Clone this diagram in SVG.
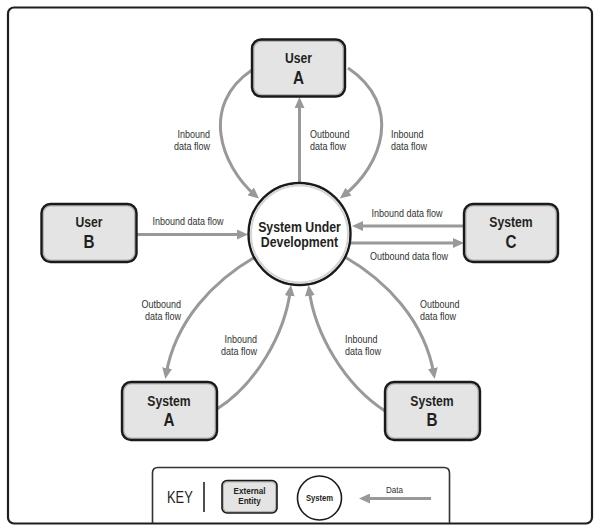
<svg xmlns="http://www.w3.org/2000/svg" width="600" height="529" viewBox="0 0 600 529">
<defs>
<style>
.frame{fill:#fff;stroke:#1e1e1e;stroke-width:2.2}
.bo{fill:#b4b4b4;stroke:#1a1a1a;stroke-width:2.4}
.bi{fill:#e4e4e4}
.co{fill:#fff;stroke:#1a1a1a;stroke-width:2.4}
.ci{fill:none;stroke:#d4d4d4;stroke-width:2}
.t1{font-family:"Liberation Sans",Arial,sans-serif;font-weight:bold;font-size:14px;fill:#231f20;text-anchor:middle}
.t2{font-family:"Liberation Sans",Arial,sans-serif;font-weight:bold;font-size:17.5px;fill:#231f20;text-anchor:middle}
.lb{font-family:"Liberation Sans",Arial,sans-serif;font-size:10px;fill:#333}
.flow{fill:none;stroke:#999;stroke-width:3;marker-end:url(#ah)}
.keyt{font-family:"Liberation Sans",Arial,sans-serif;font-size:16.5px;fill:#231f20}
.kb{font-family:"Liberation Sans",Arial,sans-serif;font-weight:bold;font-size:9px;fill:#231f20;text-anchor:middle}
</style>
<marker id="ah" markerUnits="userSpaceOnUse" markerWidth="11" markerHeight="10" refX="7" refY="5" orient="auto">
<path d="M0,0 L11,5 L0,10 z" fill="#999"/>
</marker>
</defs>
<rect class="frame" x="8" y="7.5" width="584" height="516" rx="6"/>

<g id="connectors">
<path class="flow" d="M299.5,183 V101"/>
<path class="flow" d="M252,70 C200,105 220,165 256,196"/>
<path class="flow" d="M348,68 C403,105 383,165 343,196"/>
<path class="flow" d="M137,234.5 H244"/>
<path class="flow" d="M464,226 H356"/>
<path class="flow" d="M349.5,243 H460"/>
<path class="flow" d="M255,257 C215,280 175,320 166,375"/>
<path class="flow" d="M217,409 C255,385 285,335 290.5,289"/>
<path class="flow" d="M385,411 C345,385 315,335 309,289"/>
<path class="flow" d="M345,257 C385,280 425,320 434,375"/>
<g class="lb">
<text transform="translate(210,138) scale(0.9,1)" text-anchor="end">Inbound</text>
<text transform="translate(210,149.5) scale(0.9,1)" text-anchor="end">data flow</text>
<text transform="translate(310,138) scale(0.9,1)">Outbound</text>
<text transform="translate(310,149.5) scale(0.9,1)">data flow</text>
<text transform="translate(391,138) scale(0.9,1)">Inbound</text>
<text transform="translate(391,149.5) scale(0.9,1)">data flow</text>
<text transform="translate(188,225) scale(0.9,1)" text-anchor="middle">Inbound data flow</text>
<text transform="translate(407,217) scale(0.9,1)" text-anchor="middle">Inbound data flow</text>
<text transform="translate(409,259.5) scale(0.9,1)" text-anchor="middle">Outbound data flow</text>
<text transform="translate(181,308) scale(0.9,1)" text-anchor="end">Outbound</text>
<text transform="translate(181,319.5) scale(0.9,1)" text-anchor="end">data flow</text>
<text transform="translate(257,343) scale(0.9,1)" text-anchor="end">Inbound</text>
<text transform="translate(257,354.5) scale(0.9,1)" text-anchor="end">data flow</text>
<text transform="translate(345,343) scale(0.9,1)">Inbound</text>
<text transform="translate(345,354.5) scale(0.9,1)">data flow</text>
<text transform="translate(420,308) scale(0.9,1)">Outbound</text>
<text transform="translate(420,319.5) scale(0.9,1)">data flow</text>
</g>
</g>

<g id="system-under-development">
<circle class="co" cx="299.5" cy="234" r="51"/>
<circle class="ci" cx="299.5" cy="234" r="48.5"/>
<text class="t1" transform="translate(299.5,232) scale(0.88,1)">System Under</text>
<text class="t1" transform="translate(299.5,246.5) scale(0.88,1)">Development</text>
</g>

<g id="user-a">
<rect class="bo" x="252" y="39.5" width="93" height="57" rx="9"/>
<rect class="bi" x="254.5" y="42" width="88" height="52" rx="7"/>
<text class="t1" transform="translate(298.5,62.5) scale(0.87,1)">User</text>
<text class="t2" transform="translate(298.5,83.5) scale(0.87,1)">A</text>
</g>

<g id="user-b">
<rect class="bo" x="41.5" y="204" width="95" height="58" rx="9"/>
<rect class="bi" x="44" y="206.5" width="90" height="53" rx="7"/>
<text class="t1" transform="translate(89,227) scale(0.87,1)">User</text>
<text class="t2" transform="translate(89,248) scale(0.87,1)">B</text>
</g>

<g id="system-c">
<rect class="bo" x="464" y="204" width="94" height="58" rx="9"/>
<rect class="bi" x="466.5" y="206.5" width="89" height="53" rx="7"/>
<text class="t1" transform="translate(511,227) scale(0.87,1)">System</text>
<text class="t2" transform="translate(511,248) scale(0.87,1)">C</text>
</g>

<g id="system-a">
<rect class="bo" x="122" y="382" width="95" height="58" rx="9"/>
<rect class="bi" x="124.5" y="384.5" width="90" height="53" rx="7"/>
<text class="t1" transform="translate(169,406) scale(0.87,1)">System</text>
<text class="t2" transform="translate(169,426) scale(0.87,1)">A</text>
</g>

<g id="system-b">
<rect class="bo" x="385" y="382" width="95" height="58" rx="9"/>
<rect class="bi" x="387.5" y="384.5" width="90" height="53" rx="7"/>
<text class="t1" transform="translate(432,406) scale(0.87,1)">System</text>
<text class="t2" transform="translate(432,426) scale(0.87,1)">B</text>
</g>

<g id="key">
<path d="M152.5,523 V473 Q152.5,467.5 158,467.5 H444 Q449.5,467.5 449.5,473 V523" fill="none" stroke="#333" stroke-width="1.6"/>
<text class="keyt" transform="translate(167,503) scale(0.78,1)">KEY</text>
<line x1="204" y1="482" x2="204" y2="512" stroke="#222" stroke-width="1.6"/>
<rect x="222" y="480.5" width="55" height="32.5" rx="5" fill="#b4b4b4" stroke="#1a1a1a" stroke-width="1.6"/>
<rect x="224" y="482.5" width="51" height="28.5" rx="4" fill="#e4e4e4"/>
<text class="kb" transform="translate(249.5,494) scale(0.9,1)">External</text>
<text class="kb" transform="translate(249.5,504) scale(0.9,1)">Entity</text>
<circle cx="319.5" cy="498" r="22" fill="#fff" stroke="#1a1a1a" stroke-width="1.6"/>
<text class="kb" transform="translate(319.5,501) scale(0.9,1)" style="font-size:8.5px">System</text>
<path class="flow" d="M431,498.5 H363"/>
<text class="lb" transform="translate(394.5,493) scale(0.85,1)" text-anchor="middle" style="font-size:9.5px">Data</text>
</g>
</svg>
